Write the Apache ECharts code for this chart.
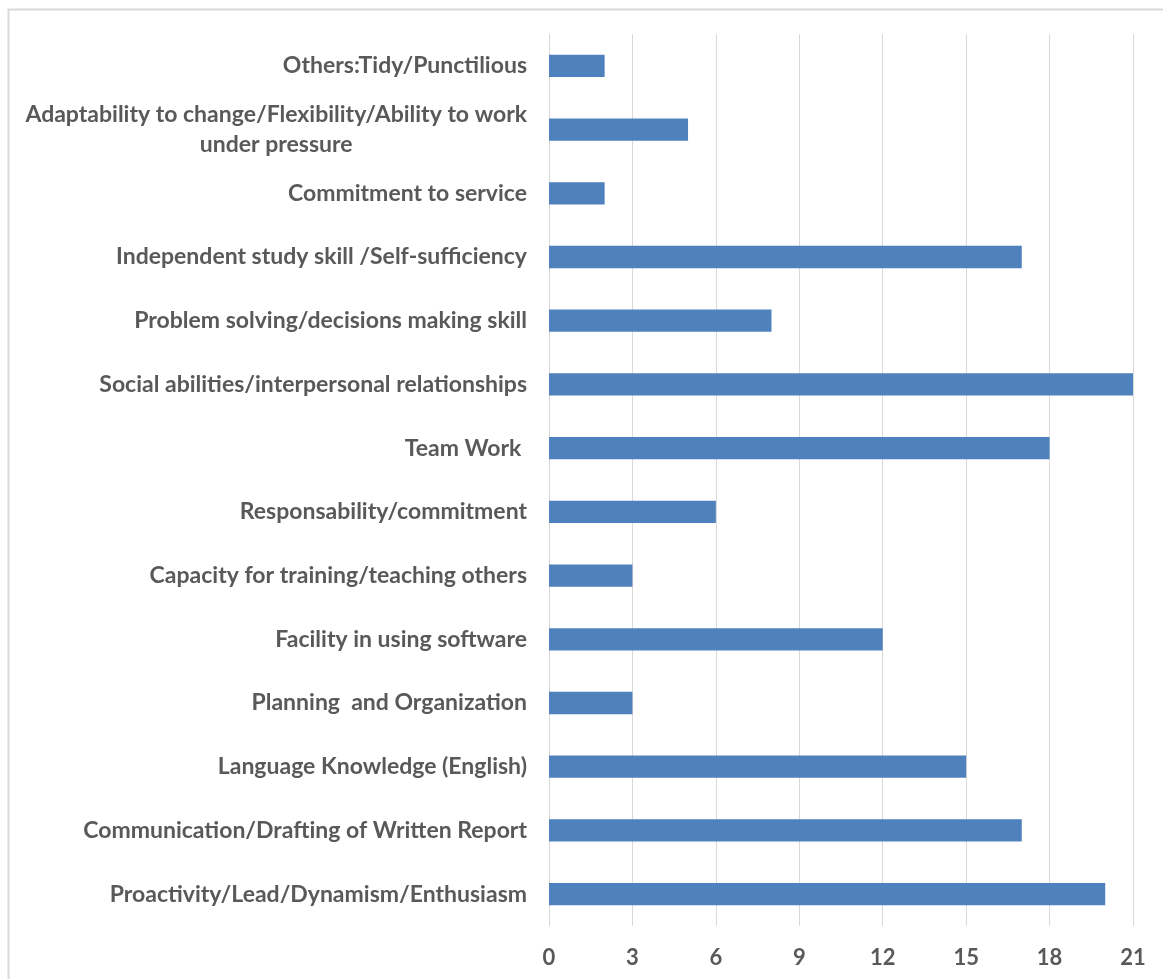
<!DOCTYPE html>
<html>
<head>
<meta charset="utf-8">
<script src="https://cdn.jsdelivr.net/npm/echarts@6/dist/echarts.min.js"></script>
<style>
html,body{margin:0;padding:0;background:#fff;}
#chart{width:1163px;height:979px;}
</style>
</head>
<body>
<div id="chart"></div>
<script>
const categories = [
  "Proactivity/Lead/Dynamism/Enthusiasm",
  "Communication/Drafting of Written Report",
  "Language Knowledge (English)",
  "Planning  and Organization",
  "Facility in using software",
  "Capacity for training/teaching others",
  "Responsability/commitment",
  "Team Work ",
  "Social abilities/interpersonal relationships",
  "Problem solving/decisions making skill",
  "Independent study skill /Self-sufficiency",
  "Commitment to service",
  "Adaptability to change/Flexibility/Ability to work\nunder pressure",
  "Others:Tidy/Punctilious"
];
const values = [20, 17, 15, 3, 12, 3, 6, 18, 21, 8, 17, 2, 5, 2];
const xTicks = { min: 0, max: 21, interval: 3 };

const FONT = 'Lato';
const chart = echarts.init(document.getElementById('chart'));
chart.setOption({
  animation: false,
  backgroundColor: '#ffffff',
  graphic: [{
    type: 'rect',
    shape: { x: 8.5, y: 9.5, width: 1200, height: 1200 },
    style: { fill: 'none', stroke: '#d9d9d9', lineWidth: 2 },
    silent: true
  }],
  grid: { left: 549, right: 30, top: 34, bottom: 53, containLabel: false },
  xAxis: {
    type: 'value',
    min: xTicks.min, max: xTicks.max, interval: xTicks.interval,
    axisLine: { show: false },
    axisTick: { show: false },
    splitLine: { show: true, lineStyle: { color: '#d9d9d9', width: 1 } },
    axisLabel: {
      color: '#595959', fontSize: 22, fontWeight: 'bold',
      fontFamily: FONT, margin: 21
    }
  },
  yAxis: {
    type: 'category',
    data: categories,
    axisLine: { show: true, lineStyle: { color: '#d9d9d9', width: 1 } },
    axisTick: { show: false },
    axisLabel: {
      color: '#595959', fontSize: 23, fontWeight: 'bold',
      fontFamily: FONT, margin: 22, lineHeight: 30,
      formatter: function (v) {
        return v.split('\n').map(function (s) { return '{c|' + s + '}'; }).join('\n');
      },
      rich: { c: { align: 'center', color: '#595959', fontSize: 23, fontWeight: 'bold', fontFamily: FONT, lineHeight: 30 } }
    }
  },
  series: [{
    type: 'bar',
    data: values,
    barWidth: '35%',
    itemStyle: { color: '#4f81bd' }
  }]
});
</script>
</body>
</html>
